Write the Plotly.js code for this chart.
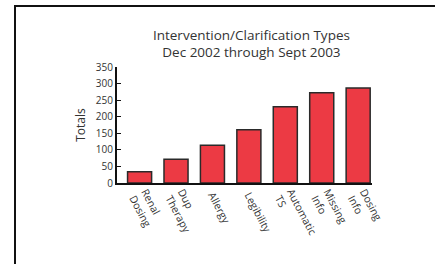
<!DOCTYPE html>
<html><head><meta charset="utf-8">
<script src="https://cdn.plot.ly/plotly-3.0.1.min.js"></script>
<style>
body{margin:0;padding:0;background:#fff;}
#frame{position:absolute;left:14px;top:5px;width:600px;height:400px;border:2px solid #111;}
#chart{position:absolute;left:0;top:0;width:435px;height:264px;}
</style></head><body>
<div id="frame"></div>
<div id="chart"></div>
<script>
const categories = ["Renal<br>Dosing","Dup<br>Therapy","Allergy","Legibility","Automatic<br>TS","Missing<br>Info","Dosing<br>Info"];
const totals = [34, 72, 114, 161, 230, 272, 287];
const yTicks = [0,50,100,150,200,250,300,350];

const font = "Open Sans, Noto Sans, sans-serif";
Plotly.newPlot('chart', [{
  type:'bar', x:[0,1,2,3,4,5,6], y:totals,
  marker:{color:'#ec3a44', line:{color:'#2a2a2a', width:1.5}},
  width:0.66, hoverinfo:'none'
}], {
  width:435, height:264,
  margin:{l:117, r:63, t:67, b:81, pad:0},
  paper_bgcolor:'rgba(0,0,0,0)', plot_bgcolor:'rgba(0,0,0,0)',
  title:{text:"Intervention/Clarification Types<br>Dec 2002 through Sept 2003", x:0.578, xanchor:'center', y:0.85, yanchor:'middle', font:{family:font, size:13.5, color:'#333'}},
  showlegend:false,
  xaxis:{range:[-0.62,6.38], tickvals:[0,1,2,3,4,5,6], ticktext:categories, tickangle:62, ticks:'', showgrid:false, zeroline:false,
    showline:true, linecolor:'#111', linewidth:2, tickfont:{family:font, size:10.5, color:'#333'}, fixedrange:true},
  yaxis:{range:[0,350], tickvals:yTicks, ticks:'inside', ticklen:4, tickwidth:1, tickcolor:'#111', showgrid:false, zeroline:false,
    showline:true, linecolor:'#111', linewidth:2, tickfont:{family:font, size:10, color:'#333'},
    title:{text:"Totals", font:{family:font, size:12, color:'#333'}, standoff:8}, fixedrange:true}
}, {displayModeBar:false, staticPlot:true});
</script></body></html>
